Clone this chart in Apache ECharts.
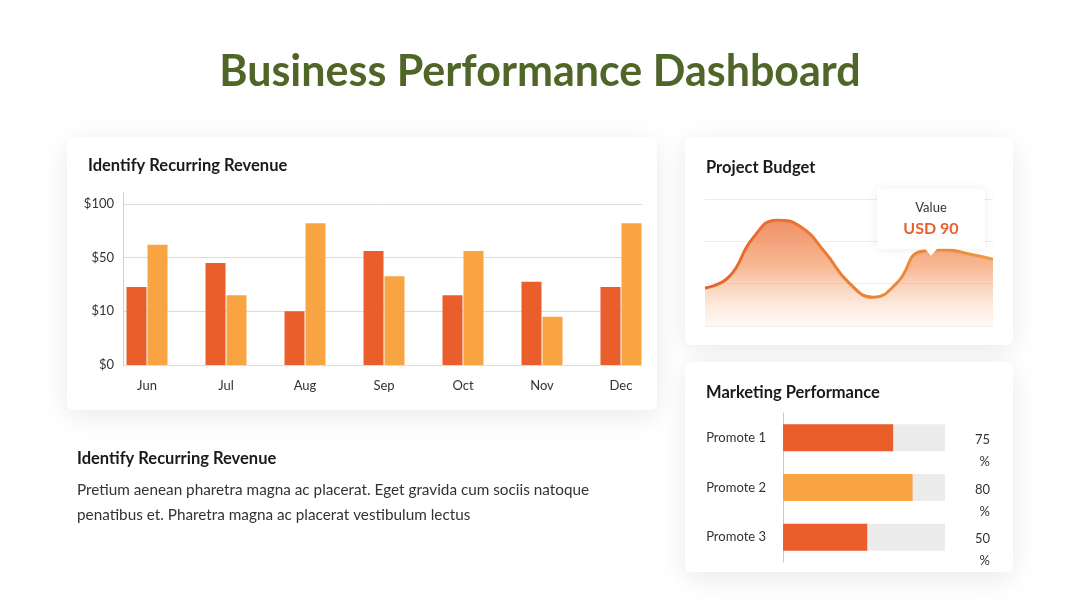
<!DOCTYPE html>
<html>
<head>
<meta charset="utf-8">
<title>Business Performance Dashboard</title>
<script src="https://cdn.jsdelivr.net/npm/echarts@6/dist/echarts.min.js"></script>
<style>
  html, body { margin: 0; padding: 0; background: #fff; }
  #main { width: 1080px; height: 608px; }
</style>
</head>
<body>
<div id="main"></div>
<script>
// revenue chart
var months = ['Jun', 'Jul', 'Aug', 'Sep', 'Oct', 'Nov', 'Dec'];
var seriesA = [28, 46, 10, 56, 22, 32, 28];
var seriesB = [62, 22, 82, 36, 56, 9, 82];
var yTickValues = [0, 10, 50, 100];
var yTickLabels = ['$0', '$10', '$50', '$100'];

// project budget
var budgetX = ['1', '2', '3', '4', '5', '6', '7', '8', '9', '10', '11', '12', '13'];
var budgetValues = [45, 58, 104, 125, 117, 87, 51, 34, 51, 88, 90, 85, 79];
var budgetMarkIndex = 10;

// marketing performance
var promotes = ['Promote 1', 'Promote 2', 'Promote 3'];
var promoteFill = [68, 80, 52];
var promoteLabels = [75, 80, 50];

var dark = '#e95e2a', light = '#f8a443';
var font = 'Lato';

// the revenue axis is spaced evenly by tick, not by value
function toAxis(v) {
  for (var i = 1; i < yTickValues.length; i++) {
    if (v <= yTickValues[i]) {
      var a = yTickValues[i - 1], b = yTickValues[i];
      return i - 1 + (v - a) / (b - a);
    }
  }
  return yTickValues.length - 1;
}
function pairs(arr) {
  return arr.map(function (v, i) { return [i, toAxis(v)]; });
}

function card(x, y, w, h) {
  return {
    type: 'rect', z: 0,
    shape: { x: x, y: y, width: w, height: h, r: 6 },
    style: { fill: '#fff', shadowBlur: 28, shadowColor: 'rgba(0,0,0,0.09)', shadowOffsetY: 6 }
  };
}
function txt(x, y, s, f, color, align) {
  return {
    type: 'text', z: 1, x: x, y: y,
    style: { text: s, font: f, fill: color || '#1a1a1a', align: align || 'left', verticalAlign: 'middle' }
  };
}

var chart = echarts.init(document.getElementById('main'));
chart.setOption({
  animation: false,
  textStyle: { fontFamily: font },
  graphic: [
    card(67, 137, 590, 273),
    card(685, 137, 328, 208),
    card(685, 362, 328, 210),
    txt(540, 72, 'Business Performance Dashboard', 'bold 43px Lato', '#4f6628', 'center'),
    txt(88, 166, 'Identify Recurring Revenue', 'bold 16.5px Lato'),
    txt(706, 168, 'Project Budget', 'bold 16.5px Lato'),
    txt(706, 393, 'Marketing Performance', 'bold 16.5px Lato'),
    txt(77, 459, 'Identify Recurring Revenue', 'bold 16.5px Lato'),
    {
      type: 'text', z: 1, x: 77, y: 478,
      style: {
        text: 'Pretium aenean pharetra magna ac placerat. Eget gravida cum sociis natoque\npenatibus et. Pharetra magna ac placerat vestibulum lectus',
        font: '15.3px Lato', fill: '#333', lineHeight: 25
      }
    }
  ],
  grid: [
    { left: 123, right: 438, top: 192, bottom: 243 },
    { left: 705, right: 87, top: 199, bottom: 282 },
    { left: 783, right: 135, top: 413, bottom: 46 }
  ],
  xAxis: [
    {
      type: 'value', gridIndex: 0, min: -0.304, max: 6.266,
      axisLine: { show: false }, splitLine: { show: false },
      axisTick: { show: false, customValues: [0, 1, 2, 3, 4, 5, 6] },
      axisLabel: {
        customValues: [0, 1, 2, 3, 4, 5, 6], margin: 14, color: '#333', fontSize: 13,
        formatter: function (v) { return months[Math.round(v)]; }
      }
    },
    {
      type: 'category', gridIndex: 1, data: budgetX, boundaryGap: false,
      axisLine: { show: false }, axisTick: { show: false }, axisLabel: { show: false }
    },
    {
      type: 'value', gridIndex: 2, min: 0, max: 100, show: false
    }
  ],
  yAxis: [
    {
      type: 'value', gridIndex: 0, min: 0, max: 3.22,
      axisLine: { show: true, onZero: false, lineStyle: { color: '#d0d0d0' } },
      axisTick: { show: false, customValues: [0, 1, 2, 3] },
      splitLine: { lineStyle: { color: '#dcdcdc' } },
      axisLabel: {
        customValues: [0, 1, 2, 3], margin: 9, color: '#333', fontSize: 13,
        formatter: function (v) { return yTickLabels[Math.round(v)]; }
      }
    },
    {
      type: 'value', gridIndex: 1, min: 0, max: 150, interval: 50,
      axisLabel: { show: false }, axisLine: { show: false }, axisTick: { show: false },
      splitLine: { lineStyle: { color: '#ececec' } }
    },
    {
      type: 'category', gridIndex: 2, data: promotes, inverse: true,
      axisLine: { show: true, lineStyle: { color: '#c8c8c8' } },
      axisTick: { show: false },
      axisLabel: { color: '#333', fontSize: 13, margin: 17 }
    }
  ],
  series: [
    {
      type: 'bar', xAxisIndex: 0, yAxisIndex: 0, data: pairs(seriesA),
      barWidth: 20, barGap: '5%', itemStyle: { color: dark }
    },
    {
      type: 'bar', xAxisIndex: 0, yAxisIndex: 0, data: pairs(seriesB),
      barWidth: 20, barGap: '5%', itemStyle: { color: light }
    },
    {
      type: 'line', xAxisIndex: 1, yAxisIndex: 1, data: budgetValues,
      smooth: 0.5, showSymbol: false, symbol: 'none',
      lineStyle: {
        width: 3,
        color: new echarts.graphic.LinearGradient(0, 0, 1, 0, [
          { offset: 0, color: '#e8622c' }, { offset: 1, color: '#f09a3e' }
        ])
      },
      areaStyle: {
        color: new echarts.graphic.LinearGradient(0, 0, 0, 1, [
          { offset: 0, color: 'rgba(234,96,36,1)' },
          { offset: 0.45, color: 'rgba(242,142,82,0.88)' },
          { offset: 1, color: 'rgba(253,232,215,0.4)' }
        ])
      },
      markPoint: {
        silent: true,
        data: [
          {
            coord: [budgetMarkIndex, budgetValues[budgetMarkIndex]],
            symbol: 'rect', symbolSize: [108, 60], symbolOffset: [-14, -31],
            itemStyle: { color: '#fff', shadowBlur: 10, shadowColor: 'rgba(0,0,0,0.08)' },
            label: {
              show: true, position: 'inside',
              formatter: '{a|Value}\n{b|USD ' + budgetValues[budgetMarkIndex] + '}',
              rich: {
                a: { fontSize: 13, color: '#333', lineHeight: 20, fontFamily: font },
                b: { fontSize: 16, fontWeight: 'bold', color: '#e8612c', lineHeight: 22, fontFamily: font }
              }
            }
          },
          {
            coord: [budgetMarkIndex, budgetValues[budgetMarkIndex]],
            symbol: 'triangle', symbolRotate: 180, symbolSize: [14, 8], symbolOffset: [-14, 2],
            itemStyle: { color: '#fff' }, label: { show: false }
          }
        ]
      }
    },
    {
      type: 'bar', xAxisIndex: 2, yAxisIndex: 2, data: promoteFill.map(function () { return 100; }),
      barWidth: 27, barGap: '-100%', silent: true, itemStyle: { color: '#ececec' },
      label: {
        show: true, position: 'right', distance: 45, align: 'right', offset: [0, 13],
        lineHeight: 22, color: '#333', fontSize: 13,
        formatter: function (p) { return promoteLabels[p.dataIndex] + '\n%'; }
      }
    },
    {
      type: 'bar', xAxisIndex: 2, yAxisIndex: 2, data: promoteFill,
      barWidth: 27, barGap: '-100%',
      itemStyle: { color: function (p) { return p.dataIndex === 1 ? light : dark; } }
    }
  ]
});
</script>
</body>
</html>
